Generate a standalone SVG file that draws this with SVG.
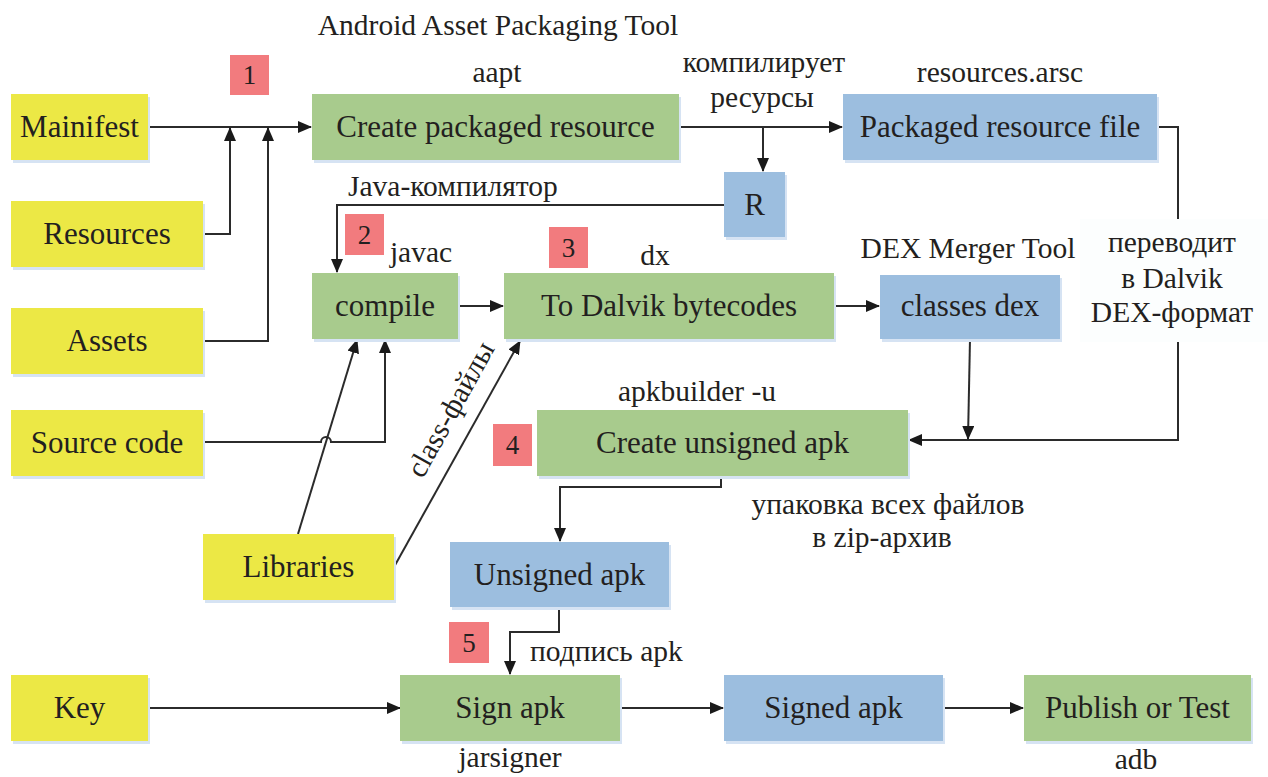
<svg xmlns="http://www.w3.org/2000/svg" width="1268" height="777" viewBox="0 0 1268 777">
<style>
.y{fill:#ECE845}
.g{fill:#A8CB8D}
.b{fill:#9CBEDF}
.r{fill:#F27B7E}
.sh{fill:#D6E3F3}
text{font-family:'Liberation Serif','Times New Roman',serif;fill:#231F20}
.t{font-size:31px;text-anchor:middle}
.l{font-size:29.5px}
.c{text-anchor:middle}
.n{font-size:27px;text-anchor:middle}
.ln{fill:none;stroke:#2b2b2b;stroke-width:2}
</style>
<defs>
<marker id="ah" markerUnits="userSpaceOnUse" markerWidth="14" markerHeight="12" refX="13" refY="6" orient="auto">
<path d="M0,0 L14,6 L0,12 Z" fill="#1a1a1a"/>
</marker>
</defs>
<rect width="1268" height="777" fill="#FFFFFF"/>

<g id="connectors">
<path class="ln" d="M148,127 H311" marker-end="url(#ah)"/>
<path class="ln" d="M203,234 H230 V128" marker-end="url(#ah)"/>
<path class="ln" d="M203,341 H268 V128" marker-end="url(#ah)"/>
<path class="ln" d="M679,127 H842" marker-end="url(#ah)"/>
<path class="ln" d="M763,127 V171" marker-end="url(#ah)"/>
<path class="ln" d="M724,205 H337 V272" marker-end="url(#ah)"/>
<path class="ln" d="M458,306 H503" marker-end="url(#ah)"/>
<path class="ln" d="M834,306 H879" marker-end="url(#ah)"/>
<path class="ln" d="M970,339 L968,439" marker-end="url(#ah)"/>
<path class="ln" d="M1157,127 H1178 V440 H909" marker-end="url(#ah)"/>
<path class="ln" d="M721,476 V487 H560 V541" marker-end="url(#ah)"/>
<path class="ln" d="M559,607 V632 H510 V674" marker-end="url(#ah)"/>
<path class="ln" d="M148,708 H400" marker-end="url(#ah)"/>
<path class="ln" d="M620,708 H723" marker-end="url(#ah)"/>
<path class="ln" d="M943,708 H1023" marker-end="url(#ah)"/>
<path class="ln" d="M203,442 H321 A5,5 0 0 1 331,442 H385 V340" marker-end="url(#ah)"/>
<path class="ln" d="M298,534 L357,340" marker-end="url(#ah)"/>
<path class="ln" d="M394,567 L520,341" marker-end="url(#ah)"/>
</g>

<rect x="1080" y="219" width="188" height="123" fill="#FCFEFE"/>

<g id="manifest"><rect class="sh" x="13" y="97" width="137" height="66"/><rect class="y" x="11" y="94" width="137" height="66"/><text class="t" x="79.5" y="137">Mainifest</text></g>
<g id="resources"><rect class="sh" x="13" y="204" width="192" height="66"/><rect class="y" x="11" y="201" width="192" height="66"/><text class="t" x="107" y="244">Resources</text></g>
<g id="assets"><rect class="sh" x="13" y="311" width="192" height="66"/><rect class="y" x="11" y="308" width="192" height="66"/><text class="t" x="107" y="351">Assets</text></g>
<g id="source"><rect class="sh" x="13" y="413" width="192" height="66"/><rect class="y" x="11" y="410" width="192" height="66"/><text class="t" x="107" y="453">Source code</text></g>
<g id="libraries"><rect class="sh" x="205" y="537" width="191" height="66"/><rect class="y" x="203" y="534" width="191" height="66"/><text class="t" x="298.5" y="577">Libraries</text></g>
<g id="key"><rect class="sh" x="13" y="678" width="137" height="66"/><rect class="y" x="11" y="675" width="137" height="66"/><text class="t" x="79.5" y="718">Key</text></g>

<g id="create-packaged"><rect class="sh" x="314" y="97" width="367" height="66"/><rect class="g" x="312" y="94" width="367" height="66"/><text class="t" x="495.5" y="137">Create packaged resource</text></g>
<g id="compile"><rect class="sh" x="314" y="276" width="146" height="66"/><rect class="g" x="312" y="273" width="146" height="66"/><text class="t" x="385" y="316">compile</text></g>
<g id="dalvik"><rect class="sh" x="506" y="276" width="330" height="66"/><rect class="g" x="504" y="273" width="330" height="66"/><text class="t" x="669" y="316">To Dalvik bytecodes</text></g>
<g id="create-unsigned"><rect class="sh" x="539" y="413" width="371" height="66"/><rect class="g" x="537" y="410" width="371" height="66"/><text class="t" x="722.5" y="453">Create unsigned apk</text></g>
<g id="sign"><rect class="sh" x="402" y="678" width="220" height="66"/><rect class="g" x="400" y="675" width="220" height="66"/><text class="t" x="510" y="718">Sign apk</text></g>
<g id="publish"><rect class="sh" x="1026" y="678" width="227" height="66"/><rect class="g" x="1024" y="675" width="227" height="66"/><text class="t" x="1137.5" y="718">Publish or Test</text></g>

<g id="packaged-file"><rect class="sh" x="845" y="97" width="314" height="66"/><rect class="b" x="843" y="94" width="314" height="66"/><text class="t" x="1000" y="137">Packaged resource file</text></g>
<g id="r"><rect class="sh" x="726" y="175" width="61" height="65"/><rect class="b" x="724" y="172" width="61" height="65"/><text class="t" x="754.5" y="215">R</text></g>
<g id="classes-dex"><rect class="sh" x="882" y="278" width="180" height="64"/><rect class="b" x="880" y="275" width="180" height="64"/><text class="t" x="970" y="316">classes dex</text></g>
<g id="unsigned"><rect class="sh" x="452" y="545" width="219" height="65"/><rect class="b" x="450" y="542" width="219" height="65"/><text class="t" x="559.5" y="585">Unsigned apk</text></g>
<g id="signed"><rect class="sh" x="726" y="678" width="219" height="66"/><rect class="b" x="724" y="675" width="219" height="66"/><text class="t" x="833.5" y="718">Signed apk</text></g>

<g id="step1"><rect class="r" x="230" y="55" width="39" height="40"/><text class="n" x="249.5" y="84">1</text></g>
<g id="step2"><rect class="r" x="345" y="214" width="39" height="41"/><text class="n" x="364.5" y="244">2</text></g>
<g id="step3"><rect class="r" x="549" y="227" width="39" height="41"/><text class="n" x="568.5" y="257">3</text></g>
<g id="step4"><rect class="r" x="493" y="424" width="39" height="42"/><text class="n" x="512.5" y="454">4</text></g>
<g id="step5"><rect class="r" x="449" y="622" width="40" height="41"/><text class="n" x="469" y="652">5</text></g>

<g id="labels">
<text class="l c" x="498" y="35">Android Asset Packaging Tool</text>
<text class="l c" x="497" y="82">aapt</text>
<text class="l c" x="764" y="72">компилирует</text>
<text class="l c" x="762" y="107">ресурсы</text>
<text class="l c" x="1000" y="82">resources.arsc</text>
<text class="l" x="348" y="196">Java-компилятор</text>
<text class="l c" x="421" y="262">javac</text>
<text class="l c" x="655" y="265">dx</text>
<text class="l c" x="968" y="258">DEX Merger Tool</text>
<text class="l c" x="1172" y="252">переводит</text>
<text class="l c" x="1172" y="288">в Dalvik</text>
<text class="l c" x="1172" y="322">DEX-формат</text>
<text class="l c" x="697" y="401">apkbuilder -u</text>
<text class="l c" x="888" y="514">упаковка всех файлов</text>
<text class="l c" x="882" y="547">в zip-архив</text>
<text class="l c" transform="translate(459,414) rotate(-61)">class-файлы</text>
<text class="l" x="530" y="661">подпись apk</text>
<text class="l c" x="510" y="767">jarsigner</text>
<text class="l c" x="1136" y="769">adb</text>
</g>
</svg>
